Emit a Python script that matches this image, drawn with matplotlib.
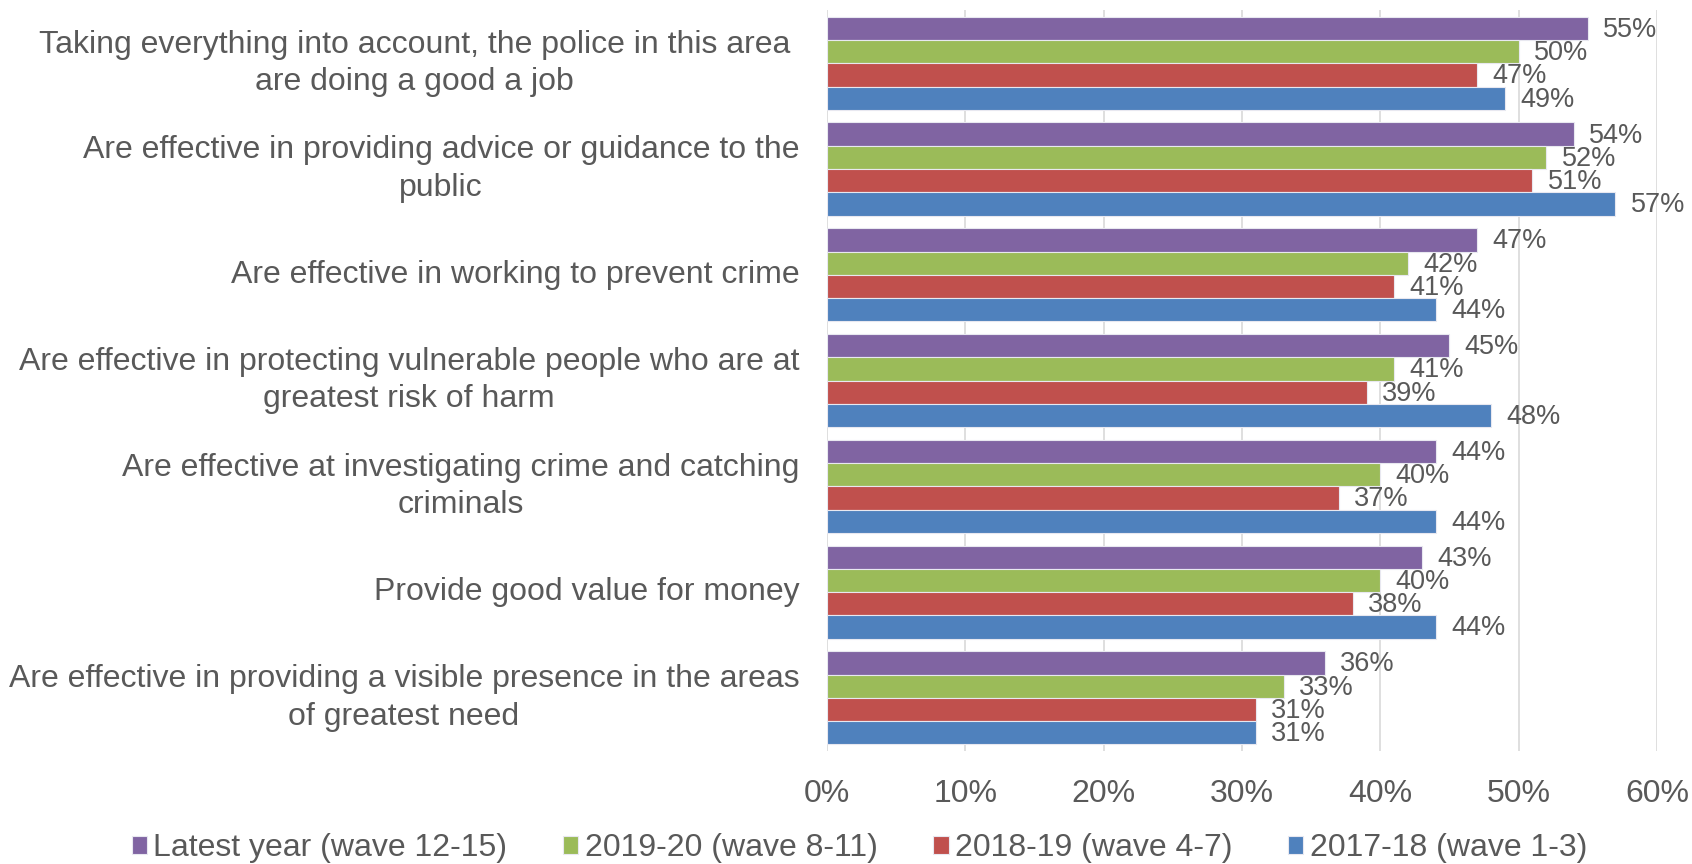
import matplotlib
matplotlib.use("Agg")
import matplotlib.pyplot as plt
import numpy as np

categories = [
    "Taking everything into account, the police in this area \nare doing a good a job ",
    "Are effective in providing advice or guidance to the\npublic",
    "Are effective in working to prevent crime",
    "Are effective in protecting vulnerable people who are at\ngreatest risk of harm",
    "Are effective at investigating crime and catching\ncriminals",
    "Provide good value for money",
    "Are effective in providing a visible presence in the areas\nof greatest need",
]
series_names = ["Latest year (wave 12-15)", "2019-20 (wave 8-11)", "2018-19 (wave 4-7)", "2017-18 (wave 1-3)"]
latest = [55, 54, 47, 45, 44, 43, 36]
y1920 = [50, 52, 42, 41, 40, 40, 33]
y1819 = [47, 51, 41, 39, 37, 38, 31]
y1718 = [49, 57, 44, 48, 44, 44, 31]
xticks = [0, 10, 20, 30, 40, 50, 60]

colors = ["#8064A2", "#9BBB59", "#C0504D", "#4F81BD"]
text_color = "#595959"
plt.rcParams['font.family'] = ['Liberation Sans', 'DejaVu Sans']

fig = plt.figure(figsize=(16.92, 8.64), dpi=100)
ax = fig.add_axes([0.4888, 0.131, 0.4905, 0.857])

series = [latest, y1920, y1819, y1718]
h = 0.22
offsets = [-0.33, -0.11, 0.11, 0.33]
yc = np.arange(len(categories))
handles = []
for s, vals, off, c, name in zip(range(4), series, offsets, colors, series_names):
    b = ax.barh(yc + off, vals, height=h, color=c, edgecolor="#E8E8F0", linewidth=0.8, label=name, zorder=3)
    handles.append(b)
    for y, v in zip(yc + off, vals):
        ax.annotate(f"{v}%", (v, y), xytext=(11, -1), textcoords="offset points",
                    va="center", ha="left", fontsize=19.5, color=text_color)

ax.set_ylim(len(categories) - 0.5, -0.5)
ax.set_xlim(0, 60)
ax.set_xticks(xticks)
ax.set_xticklabels([f"{t}%" for t in xticks], fontsize=23, color=text_color)
ax.set_yticks(yc)
ax.set_yticklabels(categories, fontsize=23, color=text_color, multialignment="center",
                   linespacing=1.32, va="center")
ax.tick_params(axis="y", length=0, pad=20)
ax.tick_params(axis="x", length=0, pad=20)
ax.grid(axis="x", color="#D9D9D9", linewidth=1.2, zorder=0)
for sp in ax.spines.values():
    sp.set_visible(False)

fig.legend(handles=handles, labels=series_names, loc="center", bbox_to_anchor=(0.508, 0.018),
           ncol=4, frameon=False, fontsize=23, labelcolor=text_color,
           handlelength=0.47, handleheight=0.47, handletextpad=0.2, columnspacing=1.75)

fig.savefig("out.png", dpi=100)
